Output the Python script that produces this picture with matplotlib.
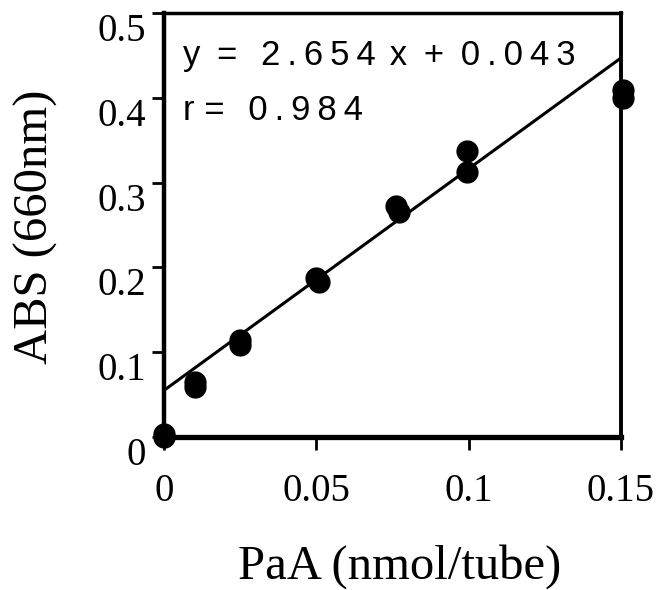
import matplotlib
matplotlib.use('Agg')
import matplotlib.pyplot as plt

# PaA standard curve (absorbance at 660 nm)
paa = [0.0, 0.0, 0.0102, 0.0102, 0.025, 0.025, 0.05, 0.051, 0.076, 0.077, 0.0995, 0.0995, 0.1505, 0.1505]
absorb = [0.0, 0.003, 0.065, 0.059, 0.114, 0.109, 0.188, 0.183, 0.272, 0.265, 0.337, 0.312, 0.409, 0.400]

# regression line as drawn
fit_x = [0.0, 0.15]
fit_y = [0.055, 0.447]

xticks = [0, 0.05, 0.1, 0.15]
xtick_labels = ['0', '0.05', '0.1', '0.15']
yticks = [0, 0.1, 0.2, 0.3, 0.4, 0.5]
ytick_labels = ['0', '0.1', '0.2', '0.3', '0.4', '0.5']

# equation lettering is spread out in the original, so pad with thin spaces
T = '\u2009'
eq_text = 'y' + T + ' =' + T + ' ' + T + T.join('2.654') + T + T + 'x ' + T + '+ ' + T + T.join('0.043')
r_text = 'r = ' + T + T + T.join('0.984')

serif = ['Liberation Serif', 'DejaVu Serif']
sans = ['Liberation Sans', 'DejaVu Sans']

fig = plt.figure(figsize=(6.66, 5.90), dpi=100)
ax = fig.add_axes([164 / 666, 1 - 437 / 590, 457 / 666, 424 / 590])

ax.plot(fit_x, fit_y, color='black', lw=2.2, solid_capstyle='butt')
ax.plot(paa, absorb, 'o', color='black', ms=15, clip_on=False, zorder=3)

ax.set_xlim(0, 0.15)
ax.set_ylim(0, 0.5)

ax.set_xticks(xticks)
ax.set_xticklabels(xtick_labels, family=serif, fontsize=28)
ax.set_yticks(yticks)
ax.set_yticklabels(ytick_labels, family=serif, fontsize=28)
for lab in ax.get_yticklabels():
    lab.set_va('top')

ax.tick_params(axis='x', direction='out', length=9, width=2, pad=17)
ax.tick_params(axis='y', direction='out', length=9, width=2, pad=4)

ax.spines['left'].set_linewidth(3.2)
ax.spines['bottom'].set_linewidth(3.8)
ax.spines['top'].set_linewidth(2.5)
ax.spines['right'].set_linewidth(2.8)

ax.set_xlabel('PaA (nmol/tube)', family=serif, fontsize=35)
ax.set_ylabel('ABS (660nm)', family=serif, fontsize=35)
ax.xaxis.set_label_coords(0.515, -0.252)
ax.yaxis.set_label_coords(-0.232, 0.495)

ax.text(0.042, 0.877, eq_text, transform=ax.transAxes,
        family=sans, fontsize=25, va='baseline', ha='left')
ax.text(0.042, 0.748, r_text, transform=ax.transAxes,
        family=sans, fontsize=25, va='baseline', ha='left')

fig.savefig('out.png', dpi=100)
